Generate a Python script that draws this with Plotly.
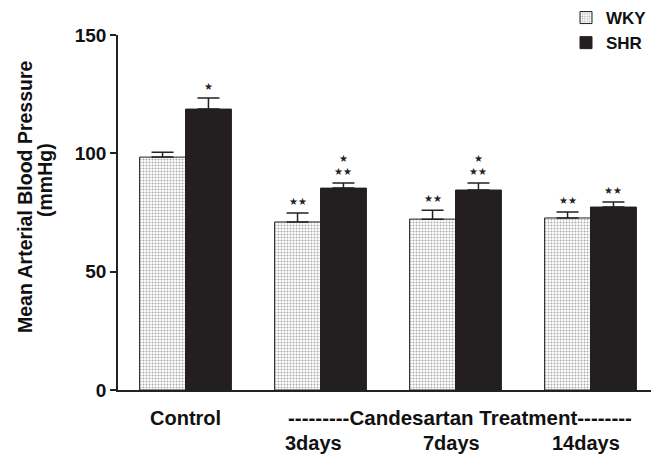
import plotly.graph_objects as go

groups = ["Control", "3days", "7days", "14days"]
series_names = ["WKY", "SHR"]
wky_mean = [98.4, 71.0, 72.2, 72.7]
wky_err = [2.1, 3.8, 3.8, 2.5]
shr_mean = [118.7, 85.3, 84.5, 77.3]
shr_err = [4.7, 2.2, 3.0, 2.1]
wky_sig = ["", "★★", "★★", "★★"]
shr_sig = ["★", "★<br>★★", "★<br>★★", "★★"]
y_ticks = [0, 50, 100, 150]

xs = list(range(len(groups)))
FONT = "Liberation Sans, Arial, sans-serif"

# page body has an 8px margin; figure is sized to fill the rest of the window
OFF = 8
W, H = 659 - OFF, 456 - OFF
L, T = 118 - OFF, 35 - OFF
R = W - (658 - OFF)
B = H - (390 - OFF)
pw, ph = W - L - R, H - T - B

fig = go.Figure()
fig.add_trace(go.Bar(
    x=xs, y=wky_mean, name=series_names[0], offsetgroup="a",
    marker=dict(color="white", line=dict(color="#222", width=1),
                pattern=dict(shape=".", fgcolor="#555", bgcolor="white", size=3, solidity=0.35)),
    error_y=dict(type="data", symmetric=False, array=wky_err, arrayminus=[0]*4,
                 color="#222", thickness=1.5, width=11),
))
fig.add_trace(go.Bar(
    x=xs, y=shr_mean, name=series_names[1], offsetgroup="b",
    marker=dict(color="#231f20", line=dict(color="#231f20", width=1)),
    error_y=dict(type="data", symmetric=False, array=shr_err, arrayminus=[0]*4,
                 color="#222", thickness=1.5, width=11),
))

ann = []
for i in xs:
    if wky_sig[i]:
        ann.append(dict(x=i - 0.17, y=wky_mean[i] + wky_err[i], text=wky_sig[i], showarrow=False,
                        yanchor="bottom", yshift=4, font=dict(size=10, color="#222")))
    if shr_sig[i]:
        ann.append(dict(x=i + 0.17, y=shr_mean[i] + shr_err[i], text=shr_sig[i], showarrow=False,
                        yanchor="bottom", yshift=4, font=dict(size=10, color="#222")))

lab_font = dict(family=FONT, size=20, color="#111", weight="bold")
# (screen-pixel positions, converted below)
ann.append(dict(x=0, y=418, xref="x", yref="paper", text="<b>Control</b>", showarrow=False,
                xanchor="center", yanchor="middle", font=lab_font))
ann.append(dict(x=460, y=418, xref="paper", yref="paper", text="<b>---------Candesartan Treatment--------</b>",
                xanchor="center", yanchor="middle", showarrow=False,
                font=dict(family=FONT, size=20.5, color="#111", weight="bold")))
label_shift = [0, -7, -4, -5]
for i in xs[1:]:
    ann.append(dict(x=i, y=443, xref="x", yref="paper", text="<b>%s</b>" % groups[i],
                    xanchor="center", yanchor="middle", xshift=label_shift[i],
                    showarrow=False, font=lab_font))
tfont = dict(family=FONT, size=19.5, color="#111", weight="bold")
ann.append(dict(x=25, y=197, xref="paper", yref="paper", text="<b>Mean Arterial Blood Pressure</b>",
                xanchor="center", yanchor="middle",
                textangle=-90, showarrow=False, font=tfont))
ann.append(dict(x=45, y=180, xref="paper", yref="paper", text="<b>(mmHg)</b>",
                xanchor="center", yanchor="middle",
                textangle=-90, showarrow=False, font=tfont))

for a in ann:
    if a.get("xref") == "paper":
        a["x"] = (a["x"] - OFF - L) / pw
    if a.get("yref") == "paper":
        a["y"] = (H - B - (a["y"] - OFF)) / ph

fig.update_layout(
    width=W, height=H,
    margin=dict(l=L, r=R, t=T, b=B, autoexpand=False),
    paper_bgcolor="white", plot_bgcolor="white",
    barmode="group", bargap=0.32, bargroupgap=0,
    font=dict(family=FONT, color="#111"),
    showlegend=True,
    legend=dict(x=(566 - OFF - L) / pw, y=1 + (35 - 0) / ph, xref="paper", yref="paper",
                xanchor="left", yanchor="top", bgcolor="rgba(0,0,0,0)",
                font=dict(family=FONT, size=17, color="#111", weight="bold"),
                itemwidth=30, tracegroupgap=2),
    annotations=ann,
    xaxis=dict(range=[-0.5, 3.5], showline=True, linecolor="#222", linewidth=1.5,
               showticklabels=False, ticks="", showgrid=False, zeroline=False),
    yaxis=dict(range=[0, 150], tickvals=y_ticks, showline=True, linecolor="#222", linewidth=1.5,
               ticks="outside", ticklen=6, tickwidth=1.5, tickcolor="#222", showgrid=False,
               zeroline=False, tickfont=dict(family=FONT, size=19, color="#111", weight="bold")),
)
fig.write_html("out.html")
